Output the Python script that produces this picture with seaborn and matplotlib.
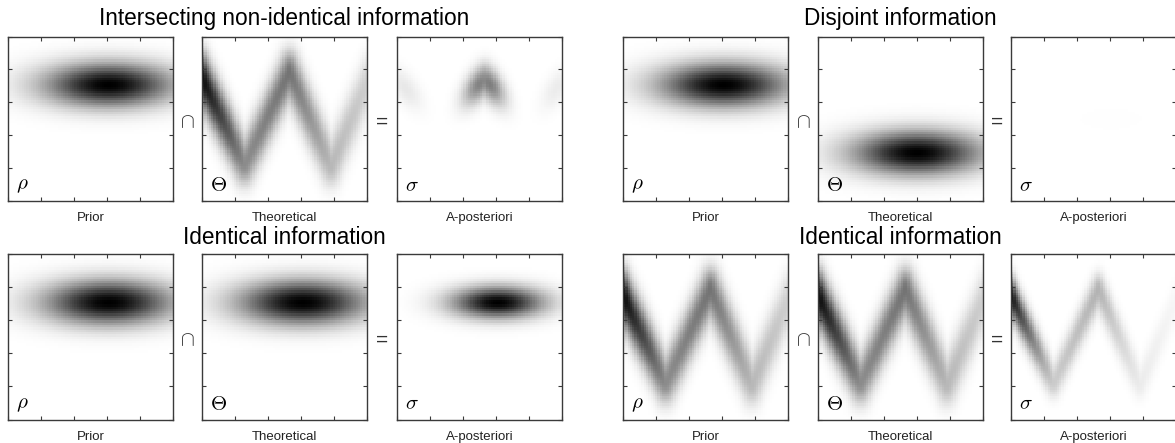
import numpy as np
import matplotlib
matplotlib.use("Agg")
import matplotlib.pyplot as plt
import seaborn as sns

# ---------------- data ----------------
group_titles = ["Intersecting non-identical information", "Disjoint information",
                "Identical information", "Identical information"]
panel_names = ["Prior", "Theoretical", "A-posteriori"]
panel_symbols = [r"$\rho$", r"$\Theta$", r"$\sigma$"]
operator_symbols = [r"$\cap$", "="]

# Gaussian blobs: (x centre, y centre) in unit panel coordinates
upper_blob_center = [0.61, 0.705]
lower_blob_center = [0.60, 0.29]
blob_sigma = [0.27, 0.092]

# zig-zag ridge: vertices and darkness at each vertex
ridge_x = [-0.02, 0.26, 0.53, 0.785, 1.03]
ridge_y = [0.79, 0.22, 0.79, 0.21, 0.78]
ridge_weight = [1.0, 0.45, 0.55, 0.28, 0.18]
ridge_sigma = [0.043, 0.085]   # spread across x and across y

grid_n = 72

# ---------------- densities ----------------
xc = (np.arange(grid_n) + 0.5) / grid_n
yc = 1 - (np.arange(grid_n) + 0.5) / grid_n
X, Y = np.meshgrid(xc, yc)


def blob(center):
    return np.exp(-0.5 * (((X - center[0]) / blob_sigma[0]) ** 2
                          + ((Y - center[1]) / blob_sigma[1]) ** 2))


def ridge():
    # distance to the zig-zag line in coordinates scaled by the spreads
    sx, sy = ridge_sigma
    U, V = X / sx, Y / sy
    vx = np.asarray(ridge_x) / sx
    vy = np.asarray(ridge_y) / sy
    d2 = np.full(X.shape, np.inf)
    for i in range(len(vx) - 1):
        dx, dy = vx[i + 1] - vx[i], vy[i + 1] - vy[i]
        t = np.clip(((U - vx[i]) * dx + (V - vy[i]) * dy) / (dx * dx + dy * dy), 0, 1)
        d2 = np.minimum(d2, (U - vx[i] - t * dx) ** 2 + (V - vy[i] - t * dy) ** 2)
    w = np.interp(X, ridge_x, ridge_weight)
    return w * np.exp(-0.5 * d2)


groups = [
    (blob(upper_blob_center), ridge()),
    (blob(upper_blob_center), blob(lower_blob_center)),
    (blob(upper_blob_center), blob(upper_blob_center)),
    (ridge(), ridge()),
]

# ---------------- figure ----------------
sns.set_style("white")
plt.rcParams["font.family"] = ["Liberation Sans", "DejaVu Sans"]
plt.rcParams["mathtext.fontset"] = "cm"

W, H = 1175, 443
fig = plt.figure(figsize=(W / 100, H / 100), dpi=100)

group_lefts = [[8, 202, 397], [623, 818, 1011], [8, 202, 397], [623, 818, 1011]]
row_tops = [36.5, 36.5, 253.5, 253.5]
row_h = [164, 164, 166, 166]
title_base = [25, 25, 244, 244]
pw = 165
edge = "#3a3a3a"

for g, (prior, theo) in enumerate(groups):
    post = prior * theo
    mats = [prior, theo, post]
    top = row_tops[g]
    h = row_h[g]
    for k in range(3):
        left = group_lefts[g][k]
        ax = fig.add_axes([left / W, 1 - (top + h) / H, pw / W, h / H])
        sns.heatmap(mats[k], ax=ax, cmap="gray_r", vmin=0, vmax=1, cbar=False,
                    xticklabels=False, yticklabels=False, rasterized=True)
        ax.set_axisbelow(False)
        for sp in ax.spines.values():
            sp.set_visible(True)
            sp.set_color(edge)
            sp.set_linewidth(1.0)
            sp.set_zorder(5)
        ax.set_xticks(np.linspace(0, grid_n, 6))
        ax.set_yticks(np.linspace(0, grid_n, 6))
        ax.set_xticklabels([])
        ax.set_yticklabels([])
        ax.tick_params(direction="in", length=3, width=0.8, colors=edge,
                       top=True, right=True, bottom=True, left=True)
        ax.set_xlabel(panel_names[k], fontsize=9.5, labelpad=5, color="#222222")
        ax.text(0.05, 0.035, panel_symbols[k], transform=ax.transAxes,
                fontsize=15, ha="left", va="bottom", color="black", zorder=6)
    # operators
    yc_px = top + h / 2 + 4
    for k in range(2):
        right_edge = group_lefts[g][k] + pw
        next_left = group_lefts[g][k + 1]
        xm = (right_edge + next_left) / 2
        fig.text(xm / W, 1 - yc_px / H, operator_symbols[k], fontsize=15,
                 ha="center", va="center", color="#333333")
    # title centred on the middle panel
    xt = group_lefts[g][1] + pw / 2
    fig.text(xt / W, 1 - title_base[g] / H, group_titles[g], fontsize=16.3,
             ha="center", va="baseline", color="black")

fig.savefig("out.png", dpi=100)
